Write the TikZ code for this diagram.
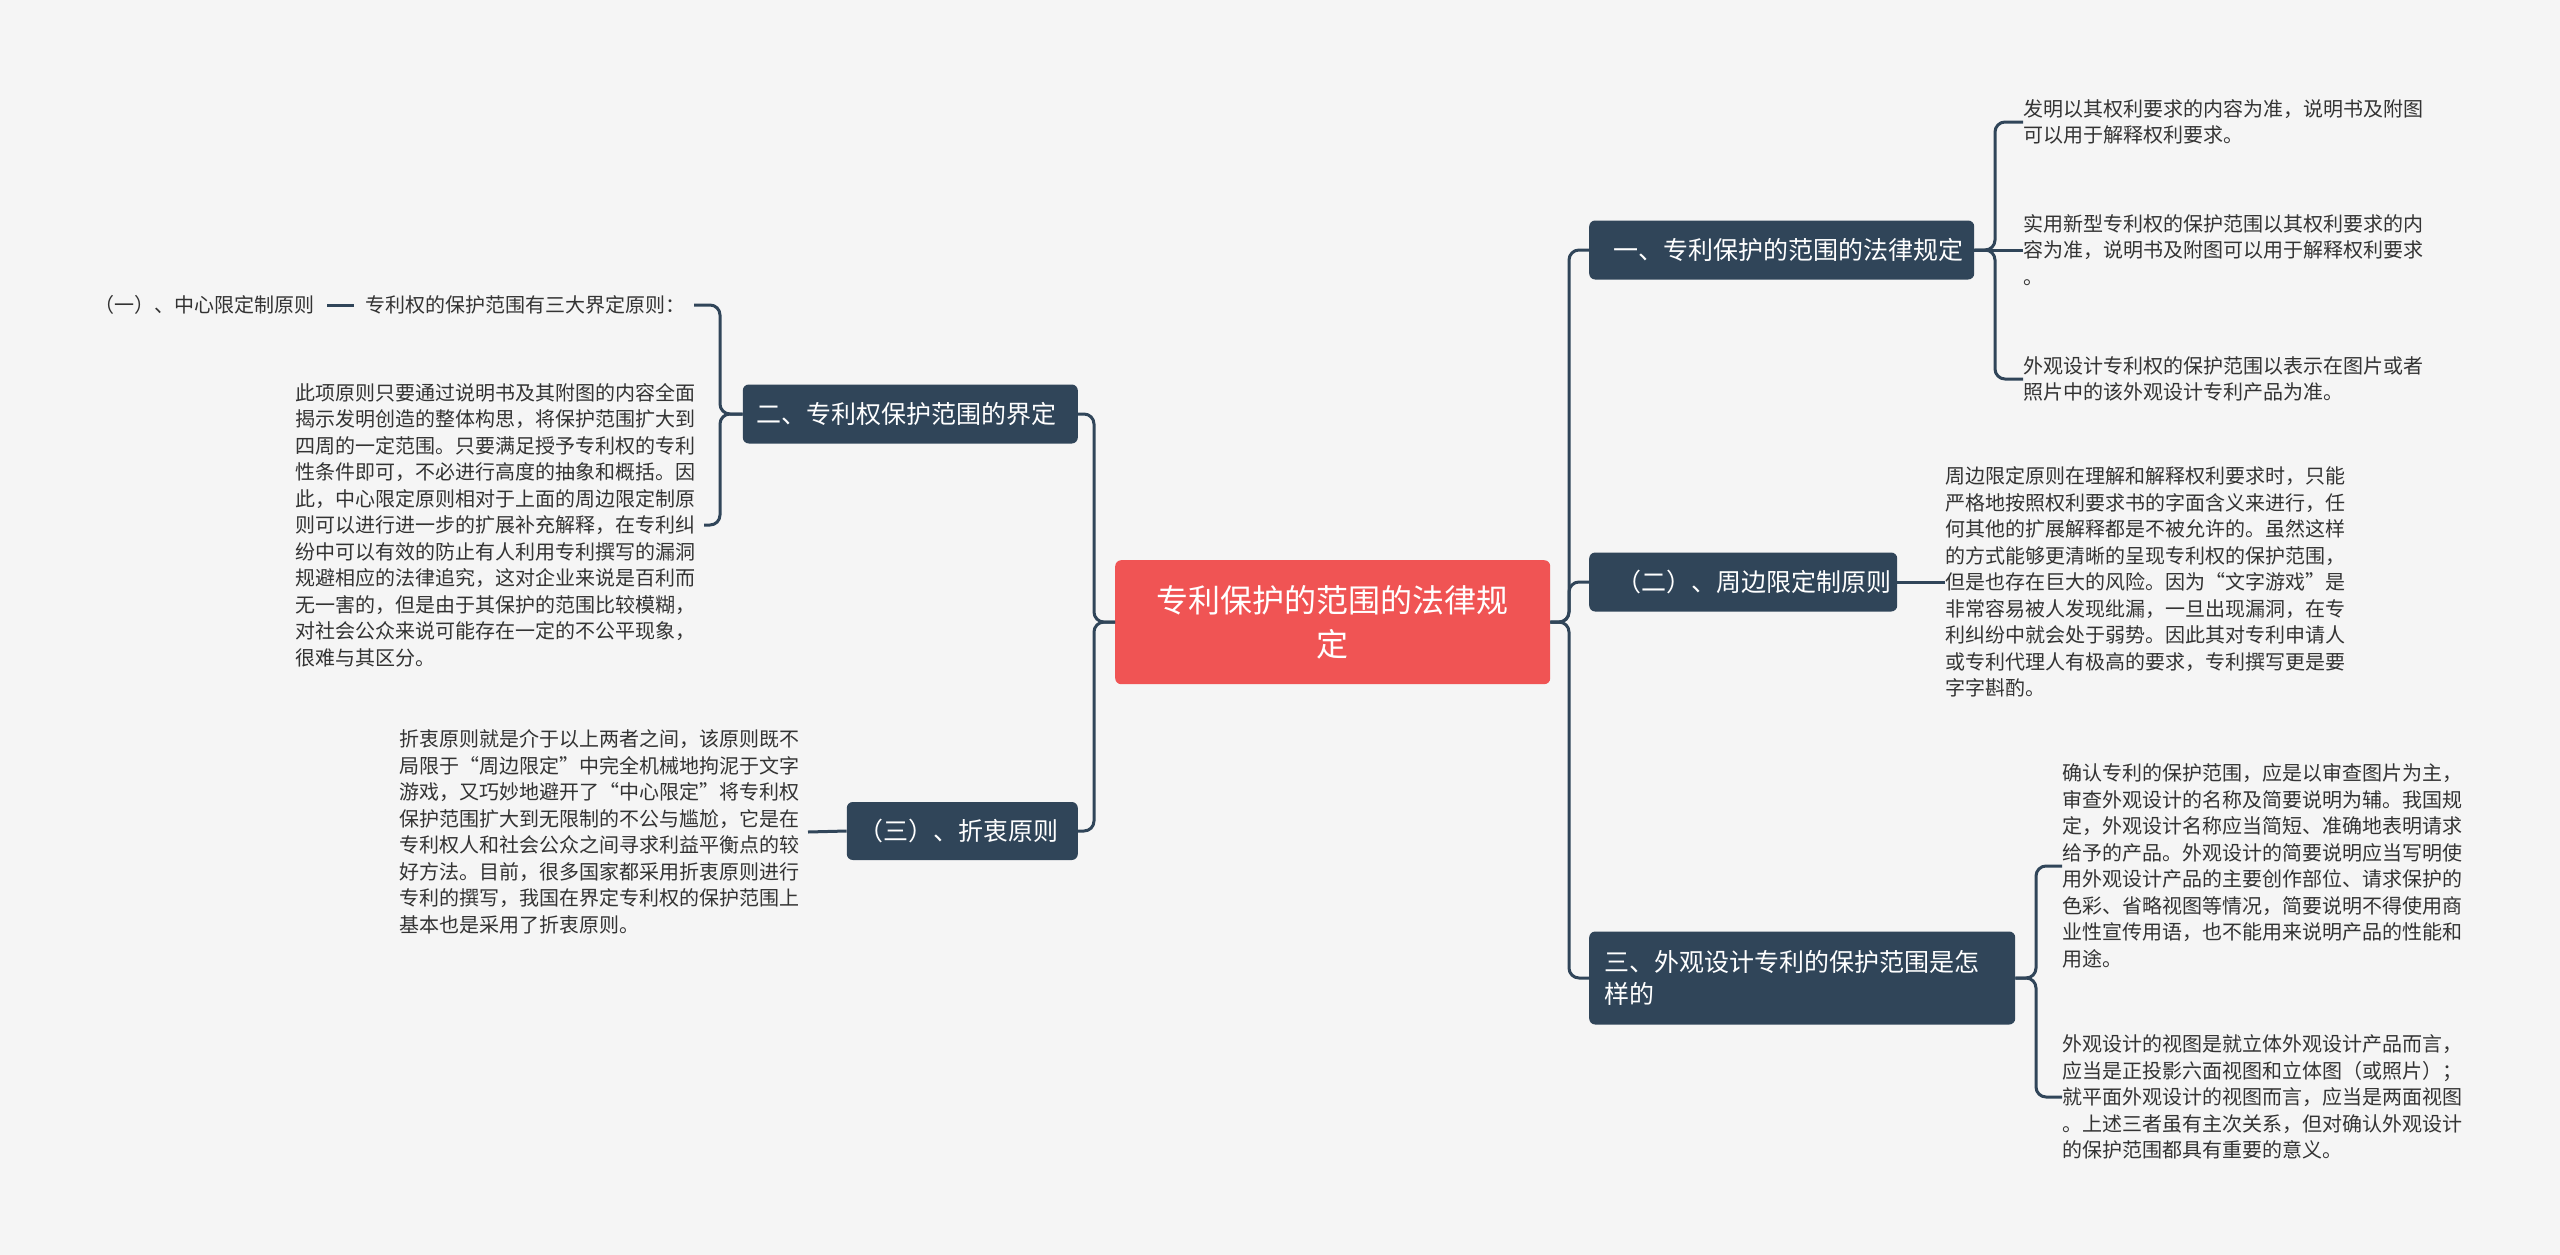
\documentclass[tikz,border=0pt]{standalone}
\usepackage{fontspec}
\setmainfont{Noto Sans CJK SC}
\usetikzlibrary{calc}
\begin{document}
\begin{tikzpicture}[x=1pt,y=-1pt,
  lk/.style={draw=nodec,line width=3pt,rounded corners=10pt},
  br/.style={fill=nodec,text=white,rounded corners=6pt,font=\fontsize{25}{32}\selectfont,inner sep=0pt,align=left},
  tx/.style={inner sep=0pt,align=left,text=txtc,font=\fontsize{20}{26.5}\selectfont}]
\definecolor{nodec}{HTML}{304559}
\definecolor{txtc}{HTML}{333333}
\definecolor{bgc}{HTML}{F5F5F5}
\definecolor{redc}{HTML}{F05454}
\fill[bgc] (0,0) rectangle (2560,1255);
\useasboundingbox (0,0) rectangle (2560,1255);
% center
\node[fill=redc,text=white,rounded corners=6pt,minimum width=435pt,minimum height=124pt,align=center,font=\fontsize{32}{44}\selectfont,anchor=north west,inner sep=0pt] (c) at (1115,560) {专利保护的范围的法律规\\定};
% right branches
\node[br,minimum width=385pt,minimum height=59pt,anchor=west] (r1) at (1589,250) {\hspace{14pt}一、专利保护的范围的法律规定};
\node[br,minimum width=308pt,minimum height=59pt,anchor=west] (r2) at (1589,582) {\hspace{22pt}（二）、周边限定制原则};
\node[br,minimum width=426pt,minimum height=93pt,anchor=west,text width=400pt] (r3) at (1589,978) {\hspace*{2pt}三、外观设计专利的保护范围是怎\\\hspace*{2pt}样的};
% left branches
\node[br,minimum width=335pt,minimum height=59pt,anchor=east] (l1) at (1078,414) {二、专利权保护范围的界定\hspace{8pt}};
\node[br,minimum width=231pt,minimum height=58pt,anchor=east] (l2) at (1078,831) {（三）、折衷原则\hspace{8pt}};
% trunk
\coordinate (tr) at (1569,622);
\coordinate (tl) at (1094,622);
\draw[lk] (c.east) -- (tr) |- (r1.west);
\draw[lk] (c.east) -- (tr) -- (r2.west -| tr) -- (r2.west);
\draw[lk] (c.east) -- (tr) |- (r3.west);
\draw[lk] (c.west) -- (tl) |- (l1.east);
\draw[lk] (c.west) -- (tl) |- (l2.east);
% right texts
\node[tx,anchor=west] (a1) at (2023,122) {发明以其权利要求的内容为准，说明书及附图\\可以用于解释权利要求。};
\node[tx,anchor=west] (a2) at (2023,250) {实用新型专利权的保护范围以其权利要求的内\\容为准，说明书及附图可以用于解释权利要求\\。};
\node[tx,anchor=west] (a3) at (2023,379) {外观设计专利权的保护范围以表示在图片或者\\照片中的该外观设计专利产品为准。};
\coordinate (b1) at (1995,250);
\draw[lk] (r1.east) -- (b1) |- (a1.west);
\draw[lk] (r1.east) -- (a2.west);
\draw[lk] (r1.east) -- (b1) |- (a3.west);
\node[tx,anchor=west] (b2t) at (1945,582) {周边限定原则在理解和解释权利要求时，只能\\严格地按照权利要求书的字面含义来进行，任\\何其他的扩展解释都是不被允许的。虽然这样\\的方式能够更清晰的呈现专利权的保护范围，\\但是也存在巨大的风险。因为“文字游戏”是\\非常容易被人发现纰漏，一旦出现漏洞，在专\\利纠纷中就会处于弱势。因此其对专利申请人\\或专利代理人有极高的要求，专利撰写更是要\\字字斟酌。};
\draw[lk] (r2.east) -- (b2t.west);
\node[tx,anchor=west] (c1) at (2062,866) {确认专利的保护范围，应是以审查图片为主，\\审查外观设计的名称及简要说明为辅。我国规\\定，外观设计名称应当简短、准确地表明请求\\给予的产品。外观设计的简要说明应当写明使\\用外观设计产品的主要创作部位、请求保护的\\色彩、省略视图等情况，简要说明不得使用商\\业性宣传用语，也不能用来说明产品的性能和\\用途。};
\node[tx,anchor=west] (c2) at (2062,1097) {外观设计的视图是就立体外观设计产品而言，\\应当是正投影六面视图和立体图（或照片）；\\就平面外观设计的视图而言，应当是两面视图\\。上述三者虽有主次关系，但对确认外观设计\\的保护范围都具有重要的意义。};
\coordinate (b3) at (2036,978);
\draw[lk] (r3.east) -- (b3) |- (c1.west);
\draw[lk] (r3.east) -- (b3) |- (c2.west);
% left texts
\node[tx,anchor=east] (d1) at (686,305) {专利权的保护范围有三大界定原则：};
\node[tx,anchor=east] (d0) at (315,305) {（一）、中心限定制原则};
\draw[draw=nodec,line width=3pt] ($(d0.east)+(12,0)$) -- ($(d1.west)+(-12,0)$);
\node[tx,anchor=east] (d2) at (696,525) {此项原则只要通过说明书及其附图的内容全面\\揭示发明创造的整体构思，将保护范围扩大到\\四周的一定范围。只要满足授予专利权的专利\\性条件即可，不必进行高度的抽象和概括。因\\此，中心限定原则相对于上面的周边限定制原\\则可以进行进一步的扩展补充解释，在专利纠\\纷中可以有效的防止有人利用专利撰写的漏洞\\规避相应的法律追究，这对企业来说是百利而\\无一害的，但是由于其保护的范围比较模糊，\\对社会公众来说可能存在一定的不公平现象，\\很难与其区分。};
\coordinate (e1) at (720,414);
\draw[lk] (l1.west) -- (e1) |- ($(d1.east)+(8,0)$);
\draw[lk] (l1.west) -- (e1) |- ($(d2.east)+(8,0)$);
\node[tx,anchor=east] (d3) at (800,832) {折衷原则就是介于以上两者之间，该原则既不\\局限于“周边限定”中完全机械地拘泥于文字\\游戏，又巧妙地避开了“中心限定”将专利权\\保护范围扩大到无限制的不公与尴尬，它是在\\专利权人和社会公众之间寻求利益平衡点的较\\好方法。目前，很多国家都采用折衷原则进行\\专利的撰写，我国在界定专利权的保护范围上\\基本也是采用了折衷原则。};
\draw[lk] (l2.west) -- ($(d3.east)+(8,0)$);
\end{tikzpicture}
\end{document}
